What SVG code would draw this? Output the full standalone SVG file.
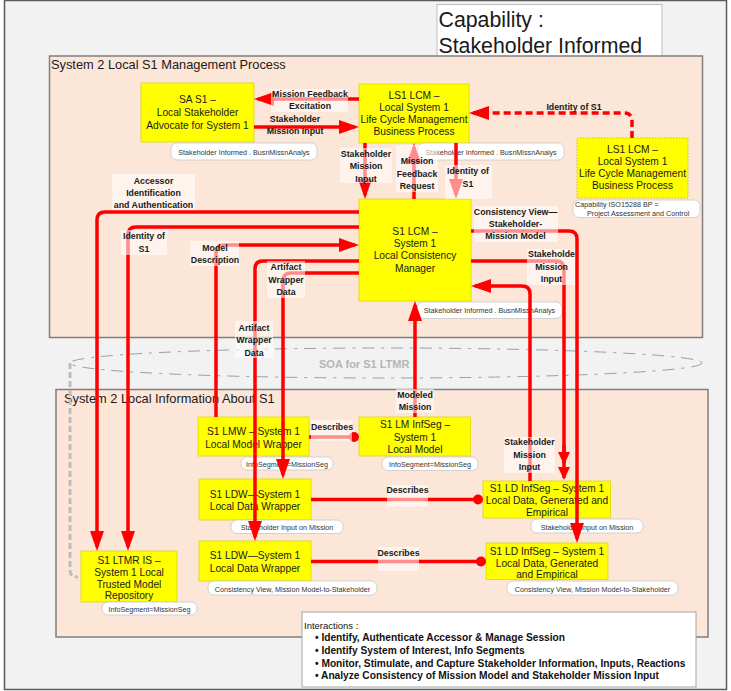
<svg xmlns="http://www.w3.org/2000/svg" width="731" height="691" viewBox="0 0 731 691">
  <style>
    .frame { fill: #f2f2f2; stroke: #595959; stroke-width: 1.5; }
    .zone { fill: #fce6d8; stroke: #7f7f7f; stroke-width: 1.5; }
    .zt { font-family: "Liberation Sans", Arial, sans-serif; font-size: 12.8px; fill: #1a1a1a; }
    .box { fill: #ffff00; stroke: #d9d900; stroke-width: 0.8; }
    .nt { font-family: "Liberation Sans", Arial, sans-serif; font-size: 10.2px; fill: #1a1a1a; text-anchor: middle; }
    .tag { fill: #ffffff; stroke: #c8c8c8; stroke-width: 0.8; }
    .tt { font-family: "Liberation Sans", Arial, sans-serif; font-size: 7.2px; fill: #333333; text-anchor: middle; }
    .tl { font-family: "Liberation Sans", Arial, sans-serif; font-size: 7.2px; fill: #333333; text-anchor: start; }
    .wire { fill: none; stroke: #ff0000; stroke-width: 3.5; }
    .arr { marker-end: url(#head); }
    .lbg { fill: #ffffff; fill-opacity: 0.55; }
    .lbl { font-family: "Liberation Sans", Arial, sans-serif; font-size: 8.8px; font-weight: bold; fill: #1a1a1a; text-anchor: middle; }
    .it { font-family: "Liberation Sans", Arial, sans-serif; font-size: 9.5px; fill: #111111; }
    .ib { font-family: "Liberation Sans", Arial, sans-serif; font-size: 10.2px; font-weight: bold; fill: #111111; }
  </style>
  <defs>
    <marker id="head" viewBox="0 0 20 14" refX="16" refY="7" markerWidth="20" markerHeight="14" markerUnits="userSpaceOnUse" orient="auto">
      <path d="M0,0 L20,7 L0,14 z" fill="#ff0000"/>
    </marker>
    <marker id="headSmall" viewBox="0 0 13 12" refX="11" refY="6" markerWidth="13" markerHeight="12" markerUnits="userSpaceOnUse" orient="auto">
      <path d="M0,0 L13,6 L0,12 z" fill="#ff0000"/>
    </marker>
  </defs>

  <!-- page -->
  <rect class="frame" x="4.5" y="0.5" width="722" height="689"/>

  <!-- capability title -->
  <g id="title">
    <rect x="437" y="4.5" width="225" height="58" fill="#ffffff" stroke="#bdbdbd" stroke-width="1"/>
    <text x="438.5" y="27" font-family="Liberation Sans, Arial, sans-serif" font-size="21.3px" fill="#1a1a1a">Capability :</text>
    <text x="438.5" y="53" font-family="Liberation Sans, Arial, sans-serif" font-size="21.3px" fill="#1a1a1a">Stakeholder Informed</text>
  </g>

  <!-- management process zone -->
  <g id="zone-management">
    <rect class="zone" x="49.5" y="56" width="653" height="281.5"/>
    <text class="zt" x="51" y="69">System 2 Local S1 Management Process</text>
  </g>

  <!-- service bus -->
  <g id="soa-bus">
    <ellipse cx="386" cy="363" rx="316" ry="15" fill="none" stroke="#9e9e9e" stroke-width="1" stroke-dasharray="12 7 3 7"/>
    <text x="319" y="367.5" font-family="Liberation Sans, Arial, sans-serif" font-size="11px" font-weight="bold" fill="#b5b5b5">SOA for S1 LTMR</text>
  </g>

  <!-- local information zone -->
  <g id="zone-information">
    <rect class="zone" x="56" y="389.5" width="652" height="247.5"/>
    <text class="zt" x="64" y="402.5">System 2 Local Information About S1</text>
  </g>

  <!-- bus link to repository -->
  <path d="M70,363 V570 Q70,577 78,577" fill="none" stroke="#bdbdbd" stroke-width="3" stroke-dasharray="6 3"/>

  <!-- nodes -->
  <g id="sa-s1">
    <rect class="box" x="141" y="83" width="113" height="59"/>
    <text class="nt" x="197.5" y="103">SA S1 –</text>
    <text class="nt" x="197.5" y="116">Local Stakeholder</text>
    <text class="nt" x="197.5" y="129">Advocate for System 1</text>
    <rect class="tag" x="171" y="143" width="146" height="17" rx="6"/>
    <text class="tt" x="244" y="154.5">Stakeholder Informed . BusnMissnAnalys</text>
  </g>

  <g id="ls1-lcm">
    <rect class="box" x="359" y="84" width="110" height="59"/>
    <text class="nt" x="414" y="99">LS1 LCM –</text>
    <text class="nt" x="414" y="111">Local System 1</text>
    <text class="nt" x="414" y="123">Life Cycle Management</text>
    <text class="nt" x="414" y="135">Business Process</text>
    <rect class="tag" x="418" y="143" width="146" height="17" rx="6"/>
    <text class="tt" x="491" y="154.5">Stakeholder Informed . BusnMissnAnalys</text>
  </g>

  <g id="ls1-lcm-iso">
    <rect x="577" y="138" width="111" height="60" fill="#ffff00" stroke="#c9c900" stroke-width="1" stroke-dasharray="1.5 1.5"/>
    <text class="nt" x="632.5" y="152.5">LS1 LCM –</text>
    <text class="nt" x="632.5" y="164.5">Local System 1</text>
    <text class="nt" x="632.5" y="176.5">Life Cycle Management</text>
    <text class="nt" x="632.5" y="189">Business Process</text>
    <rect class="tag" x="573" y="200" width="127" height="17.5" rx="6"/>
    <text class="tl" x="575" y="206.5">Capability ISO15288 BP =</text>
    <text class="tl" x="587" y="215.5">Project Assessment and Control</text>
  </g>

  <g id="s1-lcm">
    <rect class="box" x="359" y="199" width="112" height="102"/>
    <text class="nt" x="415" y="235">S1 LCM –</text>
    <text class="nt" x="415" y="247">System 1</text>
    <text class="nt" x="415" y="259.3">Local Consistency</text>
    <text class="nt" x="415" y="271.6">Manager</text>
    <rect class="tag" x="417" y="302" width="145" height="16.5" rx="6"/>
    <text class="tt" x="489.5" y="313">Stakeholder Informed . BusnMissnAnalys</text>
  </g>

  <g id="s1-lmw">
    <rect class="box" x="198" y="417" width="111" height="39"/>
    <text class="nt" x="253.5" y="435">S1 LMW – System 1</text>
    <text class="nt" x="253.5" y="447.5">Local Model Wrapper</text>
    <rect class="tag" x="241" y="457" width="92" height="13" rx="6"/>
    <text class="tt" x="287" y="466.5">InfoSegment=MissionSeg</text>
  </g>

  <g id="s1-lm-infseg">
    <rect class="box" x="359" y="417" width="111.5" height="39"/>
    <text class="nt" x="415" y="428">S1 LM InfSeg –</text>
    <text class="nt" x="415" y="440.5">System 1</text>
    <text class="nt" x="415" y="453">Local Model</text>
    <rect class="tag" x="382" y="457" width="96" height="13.5" rx="6"/>
    <text class="tt" x="430" y="467">InfoSegment=MissionSeg</text>
  </g>

  <g id="s1-ldw-input">
    <rect class="box" x="199" y="479" width="112" height="41"/>
    <text class="nt" x="255" y="497.5">S1 LDW—System 1</text>
    <text class="nt" x="255" y="509.5">Local Data Wrapper</text>
    <rect class="tag" x="231" y="520" width="112" height="13.5" rx="6"/>
    <text class="tt" x="287" y="530">Stakeholder Input on Mission</text>
  </g>

  <g id="s1-ldw-view">
    <rect class="box" x="199" y="541" width="112" height="40"/>
    <text class="nt" x="255" y="559">S1 LDW—System 1</text>
    <text class="nt" x="255" y="571.5">Local Data Wrapper</text>
    <rect class="tag" x="208" y="581" width="169" height="14" rx="6"/>
    <text class="tt" x="292.5" y="591.5">Consistency View, Mission Model-to-Stakeholder</text>
  </g>

  <g id="s1-ld-infseg-input">
    <rect class="box" x="483" y="481" width="127.5" height="37"/>
    <text class="nt" x="547" y="492.3">S1 LD InfSeg – System 1</text>
    <text class="nt" x="547" y="504.3">Local Data, Generated and</text>
    <text class="nt" x="547" y="516.3">Empirical</text>
    <rect class="tag" x="531" y="519" width="112" height="14" rx="6"/>
    <text class="tt" x="587" y="529.5">Stakeholder Input on Mission</text>
  </g>

  <g id="s1-ld-infseg-view">
    <rect class="box" x="486" y="543" width="122" height="36.5"/>
    <text class="nt" x="547" y="554.5">S1 LD InfSeg – System 1</text>
    <text class="nt" x="547" y="566.5">Local Data, Generated</text>
    <text class="nt" x="547" y="578.3">and Empirical</text>
    <rect class="tag" x="507" y="581" width="171" height="14" rx="6"/>
    <text class="tt" x="592.5" y="591.5">Consistency View, Mission Model-to-Stakeholder</text>
  </g>

  <g id="s1-ltmr">
    <rect class="box" x="81" y="551" width="96" height="51"/>
    <text class="nt" x="129" y="564">S1 LTMR IS –</text>
    <text class="nt" x="129" y="575.8">System 1 Local</text>
    <text class="nt" x="129" y="587.6">Trusted Model</text>
    <text class="nt" x="129" y="599.4">Repository</text>
    <rect class="tag" x="102" y="602" width="95" height="13" rx="6"/>
    <text class="tt" x="149.5" y="611.5">InfoSegment=MissionSeg</text>
  </g>

  <!-- connectors -->
  <g id="connectors">
    <!-- management process flows -->
    <path class="wire arr" d="M359,99 H258"/>
    <path class="wire arr" d="M254,127 H355"/>
    <path class="wire arr" d="M632,138 V121 Q632,113 624,113 H473" stroke-dasharray="7 4"/>
    <path class="wire arr" d="M365,143 V195"/>
    <path class="wire arr" d="M414,199 V147"/>
    <path class="wire arr" d="M456,143 V195"/>
    <!-- consistency manager to repository -->
    <path class="wire arr" d="M359,212 H105 Q97,212 97,220 V547"/>
    <path class="wire arr" d="M359,227 H136 Q128,227 128,235 V547"/>
    <!-- model wrapper to consistency manager -->
    <path class="wire arr" d="M216,417 V253 Q216,245 224,245 H355"/>
    <!-- artifact wrapper data -->
    <path class="wire arr" d="M359,261 H263 Q255,261 255,269 V537"/>
    <path class="wire arr" d="M359,273 H291 Q283,273 283,281 V475"/>
    <!-- modeled mission -->
    <path class="wire arr" d="M415,417 V305"/>
    <!-- describes -->
    <path class="wire" d="M309,437 H350"/>
    <circle cx="354" cy="437" r="5" fill="#ff0000"/>
    <path class="wire" d="M311,499.5 H474"/>
    <circle cx="478" cy="499.5" r="5" fill="#ff0000"/>
    <path class="wire" d="M311,561.5 H477"/>
    <circle cx="481" cy="561.5" r="5" fill="#ff0000"/>
    <!-- consistency manager to local data -->
    <path class="wire arr" d="M471,231 H569 Q577,231 577,239 V539"/>
    <path class="wire" d="M471,261 H556 Q564,261 564,269 V478" marker-end="url(#headSmall)"/>
    <path class="wire" d="M564,445 V463" marker-end="url(#headSmall)"/>
    <path class="wire arr" d="M530,481 V294 Q530,286 522,286 H475"/>

    <!-- labels -->
    <rect class="lbg" x="271" y="89" width="77" height="23"/>
    <text class="lbl" x="310" y="97">Mission Feedback</text>
    <text class="lbl" x="310" y="109.3">Excitation</text>

    <text class="lbl" x="295" y="121.7">Stakeholder</text>
    <text class="lbl" x="295" y="133.5">Mission Input</text>

    <text class="lbl" x="574" y="110">Identity of S1</text>

    <rect class="lbg" x="340" y="148" width="52" height="35"/>
    <text class="lbl" x="366" y="157">Stakeholder</text>
    <text class="lbl" x="366" y="169.3">Mission</text>
    <text class="lbl" x="366" y="181.5">Input</text>

    <rect class="lbg" x="396" y="145" width="42" height="47"/>
    <text class="lbl" x="417" y="164">Mission</text>
    <text class="lbl" x="417" y="176.7">Feedback</text>
    <text class="lbl" x="417" y="189.3">Request</text>

    <rect class="lbg" x="445" y="165" width="47" height="34"/>
    <text class="lbl" x="468" y="174">Identity of</text>
    <text class="lbl" x="468" y="186.5">S1</text>

    <rect class="lbg" x="112" y="174" width="83" height="36"/>
    <text class="lbl" x="153.5" y="183.7">Accessor</text>
    <text class="lbl" x="153.5" y="195.7">Identification</text>
    <text class="lbl" x="153.5" y="207.7">and Authentication</text>

    <rect class="lbg" x="121" y="230" width="46" height="25"/>
    <text class="lbl" x="144" y="239">Identity of</text>
    <text class="lbl" x="144" y="251.7">S1</text>

    <rect class="lbg" x="190" y="241" width="49" height="25"/>
    <text class="lbl" x="215" y="250.7">Model</text>
    <text class="lbl" x="215" y="263">Description</text>

    <rect class="lbg" x="267" y="261" width="38" height="37"/>
    <text class="lbl" x="286" y="270.3">Artifact</text>
    <text class="lbl" x="286" y="283">Wrapper</text>
    <text class="lbl" x="286" y="295.3">Data</text>

    <rect class="lbg" x="235" y="321" width="38" height="37"/>
    <text class="lbl" x="254" y="330.7">Artifact</text>
    <text class="lbl" x="254" y="343.3">Wrapper</text>
    <text class="lbl" x="254" y="355.7">Data</text>

    <rect class="lbg" x="396" y="389" width="38" height="24"/>
    <text class="lbl" x="415" y="398">Modeled</text>
    <text class="lbl" x="415" y="410.3">Mission</text>

    <rect class="lbg" x="311" y="420" width="41" height="21"/>
    <text class="lbl" x="332" y="429.7">Describes</text>

    <rect class="lbg" x="387" y="485" width="41" height="22"/>
    <text class="lbl" x="407.5" y="493">Describes</text>

    <rect class="lbg" x="378" y="547" width="41" height="24"/>
    <text class="lbl" x="398.5" y="555.7">Describes</text>

    <rect class="lbg" x="474" y="206" width="84" height="36"/>
    <text class="lbl" x="515.5" y="214.7">Consistency View—</text>
    <text class="lbl" x="515.5" y="226.5">Stakeholder-</text>
    <text class="lbl" x="515.5" y="239">Mission Model</text>

    <rect class="lbg" x="527" y="249" width="48" height="36"/>
    <text class="lbl" x="551.5" y="257.3">Stakeholde</text>
    <text class="lbl" x="551.5" y="269.7">Mission</text>
    <text class="lbl" x="551.5" y="282">Input</text>

    <rect class="lbg" x="504" y="437" width="51" height="36"/>
    <text class="lbl" x="529.5" y="444.7">Stakeholder</text>
    <text class="lbl" x="529.5" y="457.5">Mission</text>
    <text class="lbl" x="529.5" y="470">Input</text>
  </g>

  <!-- interactions note -->
  <g id="interactions">
    <rect x="302" y="612" width="394" height="75" fill="#ffffff" stroke="#a6a6a6" stroke-width="1"/>
    <text class="it" x="304" y="628.5">Interactions :</text>
    <text class="ib" x="315" y="640.5">• Identify, Authenticate Accessor &amp; Manage Session</text>
    <text class="ib" x="315" y="653.5">• Identify System of Interest, Info Segments</text>
    <text class="ib" x="315" y="666.5">• Monitor, Stimulate, and Capture Stakeholder Information, Inputs, Reactions</text>
    <text class="ib" x="315" y="679">• Analyze Consistency of Mission Model and Stakeholder Mission Input</text>
  </g>
</svg>
